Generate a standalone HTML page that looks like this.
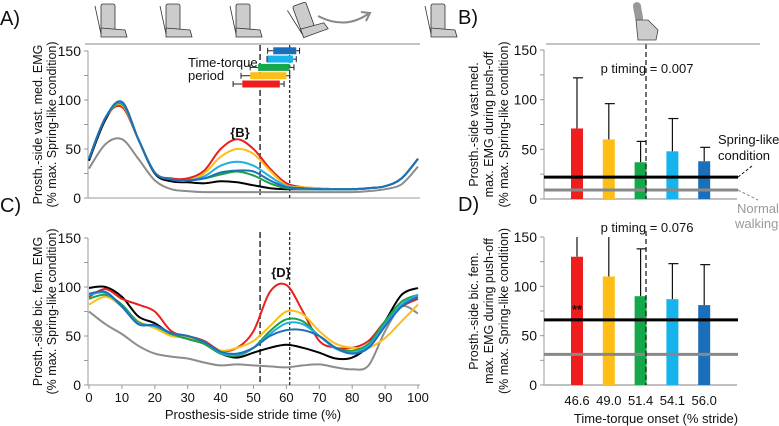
<!DOCTYPE html>
<html><head><meta charset="utf-8"><style>
body{margin:0;background:#fff}
svg{display:block;font-family:"Liberation Sans",Arial,sans-serif}
</style></head><body>
<svg id="fig" width="779" height="426" viewBox="0 0 779 426">
<g id="icons"></g>
<g id="pA"></g>
<g id="pC"></g>
<g id="pB"></g>
<g id="pD"></g>
</svg>
<script>
// ---- data ----
const pcts=[0,5,10,15,20,25,30,35,40,45,50,55,60,65,70,75,80,85,90,95,100];
const seriesNames=["gray","black","red","orange","green","lightblue","darkblue"];
const colors={gray:"#8c8c8c",black:"#000",red:"#e8201e",orange:"#fbbf16",green:"#1aa24a",lightblue:"#1eaee8",darkblue:"#1f6fb7"};
const vmGray=[30,55,60,40,18,9,7,6,6,6,6,6,6,6,6,6,6,7,9,14,32];
const vmBlack=[38,80,98,60,25,17,16,15,17,16,13,10,9,9,9,9,9,10,12,20,40];
const vmRed=[40,82,93,60,26,20,20,28,50,60,50,30,15,11,10,9,9,10,12,20,40];
const vmOrange=[40,82,95,60,26,19,18,25,42,50,45,28,13,11,10,9,9,10,12,20,40];
const vmGreen=[40,82,96,60,26,19,18,20,24,27,23,15,10,9,9,9,9,10,12,20,40];
const vmLightBlue=[40,82,97,60,26,19,18,22,33,37,33,22,12,10,9,9,9,10,12,20,40];
const vmDarkBlue=[40,82,98,60,26,19,18,20,26,28,27,18,11,10,9,9,9,10,12,20,40];
const bfGray=[75,62,52,40,32,29,27,23,20,21,20,19,18,20,21,18,16,20,55,80,73];
const bfBlack=[99,100,90,70,63,52,47,42,32,28,33,38,41,38,33,27,28,40,65,92,99];
const bfRed=[90,98,88,82,75,55,50,45,35,38,55,95,102,75,45,38,38,45,65,80,88];
const bfOrange=[82,90,80,65,58,50,48,42,35,38,45,60,75,72,55,42,38,38,48,65,82];
const bfGreen=[88,92,82,64,60,52,47,42,32,30,38,55,67,65,50,38,35,42,65,85,92];
const bfLightBlue=[92,94,80,63,60,53,50,44,33,31,38,52,63,62,50,37,33,40,62,82,92];
const bfDarkBlue=[93,95,80,62,61,53,50,44,34,32,38,50,56,56,50,38,32,38,60,80,90];
const ttOnset=[46.6,49.0,51.4,54.1,56.0];
const ttEnd=[58,60,61,62,63];
const ttErrLo=[43.8,46.2,49.0,54.1,54.3];
const ttErrHi=[59.3,61,62.3,63,64];
const barCats=["46.6","49.0","51.4","54.1","56.0"];
const barColors=["#f01d1d","#fdbf17","#14a84a","#16b4ec","#1a6fbb"];
const vmBars=[71,60,37,48,38];
const vmErr=[122,96,58,81,52];
const bfBars=[130,110,90,87,81];
const bfErr=[155,155,138,123,122];
const vmRefs=[22,9];
const bfRefs=[66,31];
const yTicks=[0,50,100,150];
const xTicks=[0,10,20,30,40,50,60,70,80,90,100];

const NS="http://www.w3.org/2000/svg";
function el(p,tag,a,txt){const e=document.createElementNS(NS,tag);for(const k in a)e.setAttribute(k,a[k]);if(txt!==undefined)e.textContent=txt;p.appendChild(e);return e;}
function smooth(pts){let d="M"+pts[0][0]+","+pts[0][1];for(let i=0;i<pts.length-1;i++){const p0=pts[i-1]||pts[i],p1=pts[i],p2=pts[i+1],p3=pts[i+2]||p2;const c1=[p1[0]+(p2[0]-p0[0])/6,p1[1]+(p2[1]-p0[1])/6],c2=[p2[0]-(p3[0]-p1[0])/6,p2[1]-(p3[1]-p1[1])/6];d+=`C${c1[0].toFixed(1)},${c1[1].toFixed(1)} ${c2[0].toFixed(1)},${c2[1].toFixed(1)} ${p2[0].toFixed(1)},${p2[1].toFixed(1)}`;}return d;}

// icons
const ic=document.getElementById('icons');
el(ic,'line',{x1:85,y1:44,x2:420,y2:44,stroke:'#888','stroke-width':1});
[[95,0],[160,0],[230,0],[293,-20],[425,0]].forEach((c,i)=>{
 const g=el(ic,'g',{transform:`translate(${c[0]},4) rotate(${c[1]},10,20)`});
 
 el(g,'rect',{x:6,y:0,width:14,height:26,fill:'#ccc',stroke:'#333','stroke-width':0.8,rx:2});
 el(g,'path',{d:'M6,24 L30,26 L32,33 L6,33 Z',fill:'#ccc',stroke:'#333','stroke-width':0.8});
 el(g,'line',{x1:0,y1:2,x2:6,y2:30,stroke:'#333','stroke-width':0.8});
});
el(ic,'path',{d:'M318,16 Q345,30 368,14',fill:'none',stroke:'#888','stroke-width':2});
el(ic,'path',{d:'M361,12 L370,13 L366,21',fill:'none',stroke:'#888','stroke-width':2});

function linePanel(id,data,y0,y150,label,ylab1,ylab2,showX){
 const g=document.getElementById(id);
 const X=v=>89+v*3.29, Y=v=>y0-(y0-y150)*v/150;
 el(g,'line',{x1:88,y1:y150,x2:88,y2:y0,stroke:'#999'});
 el(g,'line',{x1:88,y1:y0,x2:420,y2:y0,stroke:'#999'});
 yTicks.forEach(t=>{el(g,'line',{x1:84,y1:Y(t),x2:88,y2:Y(t),stroke:'#999'});el(g,'text',{x:81,y:Y(t)+5,'text-anchor':'end','font-size':14,fill:'#111'},t);});
 [25,75,125].forEach(t=>el(g,'line',{x1:84,y1:Y(t),x2:88,y2:Y(t),stroke:'#999'}));
 if(showX){xTicks.forEach(t=>{el(g,'line',{x1:X(t),y1:y0,x2:X(t),y2:y0+4,stroke:'#999'});el(g,'text',{x:X(t),y:y0+17,'text-anchor':'middle','font-size':13,fill:'#111'},t);});
  el(g,'text',{x:253,y:419,'text-anchor':'middle','font-size':13,fill:'#111'},'Prosthesis-side stride time (%)');}
 const t=el(g,'text',{transform:`translate(42,${(y0+y150)/2}) rotate(-90)`,'text-anchor':'middle','font-size':12.5,fill:'#111'});
 el(t,'tspan',{x:0,y:0},ylab1);el(t,'tspan',{x:0,y:14},ylab2);
 el(g,'text',{x:0,y:y150-26,'font-size':20,fill:'#111'},label);
 el(g,'line',{x1:X(52),y1:y150-6,x2:X(52),y2:y0,stroke:'#222','stroke-width':1.4,'stroke-dasharray':'6,3'});
 el(g,'line',{x1:X(61),y1:y150-6,x2:X(61),y2:y0,stroke:'#222','stroke-width':1.2,'stroke-dasharray':'3,2'});
 seriesNames.forEach((n,i)=>{const vals=data[i];const p=el(g,'path',{d:smooth(vals.map((v,j)=>[X(pcts[j]),Y(v)])),fill:'none',stroke:colors[n],'stroke-width':2});
  });
 return {X,Y,g};
}
const A=linePanel('pA',[vmGray,vmBlack,vmRed,vmOrange,vmGreen,vmLightBlue,vmDarkBlue],198,51,'A)','Prosth.-side vast. med. EMG','(% max. Spring-like condition)',false);
el(A.g,'text',{x:240,y:137,'text-anchor':'middle','font-size':13,'font-weight':'bold',fill:'#111'},'{B}');
el(A.g,'text',{x:188,y:67,'font-size':13,fill:'#111'},'Time-torque');
el(A.g,'text',{x:188,y:80,'font-size':13,fill:'#111'},'period');
ttOnset.forEach((o,i)=>{const y=84-i*8.3;const x1=A.X(o),x2=A.X(ttEnd[i]);
 const r=el(A.g,'rect',{x:x1,y:y-3.5,width:x2-x1,height:7,fill:barColors[i]});
 
 const e1=A.X(ttErrLo[i]),e2=A.X(ttErrHi[i]);
 el(A.g,'path',{d:`M${e1},${y-3}V${y+3}M${e1},${y}H${x1}M${x2},${y}H${e2}M${e2},${y-3}V${y+3}`,stroke:'#222','stroke-width':1,fill:'none'});});
const C=linePanel('pC',[bfGray,bfBlack,bfRed,bfOrange,bfGreen,bfLightBlue,bfDarkBlue],385,238,'C)','Prosth.-side bic. fem. EMG','(% max. Spring-like condition)',true);
el(C.g,'text',{x:281,y:277,'text-anchor':'middle','font-size':13,'font-weight':'bold',fill:'#111'},'{D}');

function barPanel(id,vals,errs,refs,y0,y150,label,ptxt,pY,l1,l2,l3,showCats,legend){
 const g=document.getElementById(id);
 const Y=v=>y0-(y0-y150)*Math.min(v,150)/150, X=i=>577+i*31.8;
 el(g,'line',{x1:544,y1:y150,x2:544,y2:y0,stroke:'#999'});
 el(g,'line',{x1:544,y1:y0,x2:737,y2:y0,stroke:'#aaa','stroke-width':1.5});
 yTicks.forEach(t=>{el(g,'line',{x1:540,y1:Y(t),x2:544,y2:Y(t),stroke:'#999'});el(g,'text',{x:537,y:Y(t)+5,'text-anchor':'end','font-size':14,fill:'#111'},t);});
 [25,75,125].forEach(t=>el(g,'line',{x1:540,y1:Y(t),x2:544,y2:Y(t),stroke:'#999'}));
 const t=el(g,'text',{transform:`translate(478,${(y0+y150)/2}) rotate(-90)`,'text-anchor':'middle','font-size':12.5,fill:'#111'});
 el(t,'tspan',{x:0,y:0},l1);el(t,'tspan',{x:0,y:15},l2);el(t,'tspan',{x:0,y:30},l3);
 el(g,'text',{x:458,y:y150-26,'font-size':20,fill:'#111'},label);
 vals.forEach((v,i)=>{const x=X(i);
  el(g,'line',{x1:x,y1:Y(errs[i]),x2:x,y2:Y(v),stroke:'#111','stroke-width':1.2});
  if(errs[i]<=150)el(g,'line',{x1:x-4,y1:Y(errs[i]),x2:x+6,y2:Y(errs[i]),stroke:'#111','stroke-width':1.2});
  const r=el(g,'rect',{x:x-6,y:Y(v),width:12,height:y0-Y(v),fill:barColors[i]});
  
  if(showCats)el(g,'text',{x:x,y:405,'text-anchor':'middle','font-size':13,fill:'#111'},barCats[i]);});
 el(g,'line',{x1:544,y1:Y(refs[0]),x2:738,y2:Y(refs[0]),stroke:'#000','stroke-width':3});
 el(g,'line',{x1:544,y1:Y(refs[1]),x2:738,y2:Y(refs[1]),stroke:'#888','stroke-width':3});
 el(g,'line',{x1:646,y1:y150-6,x2:646,y2:y0,stroke:'#111','stroke-width':1.2,'stroke-dasharray':'5,3'});
 el(g,'text',{x:647,y:pY,'text-anchor':'middle','font-size':13,fill:'#111'},ptxt);
 if(showCats)el(g,'text',{x:656,y:423,'text-anchor':'middle','font-size':13,fill:'#111'},'Time-torque onset (% stride)');
 if(legend){
  el(g,'text',{x:718,y:144,'font-size':13,fill:'#111'},'Spring-like');
  el(g,'text',{x:718,y:160,'font-size':13,fill:'#111'},'condition');
  el(g,'line',{x1:738,y1:Y(refs[0]),x2:752,y2:166,stroke:'#111','stroke-dasharray':'3,2'});
  el(g,'line',{x1:738,y1:Y(refs[1]),x2:758,y2:200,stroke:'#888','stroke-dasharray':'3,2'});
  el(g,'text',{x:737,y:213,'font-size':13,fill:'#999'},'Normal');
  el(g,'text',{x:735,y:228,'font-size':13,fill:'#999'},'walking');
 }
 return {g,Y,X};
}
const B=barPanel('pB',vmBars,vmErr,vmRefs,199,50,'B)','p timing = 0.007',73,'Prosth.-side vast.med.','max. EMG during push-off','(% max. Spring-like condition)',false,true);
el(B.g,'line',{x1:546,y1:44,x2:760,y2:44,stroke:'#888'});
const bt=el(B.g,'g',{transform:'translate(634,2)'});
el(bt,'rect',{x:0,y:0,width:8,height:20,rx:4,fill:'#999',transform:'rotate(-10,4,10)'});
el(bt,'path',{d:'M2,18 L14,18 L24,28 L22,38 L4,38 Z',fill:'#ccc',stroke:'#444','stroke-width':0.8});
const D=barPanel('pD',bfBars,bfErr,bfRefs,385,237,'D)','p timing = 0.076',232,'Prosth.-side bic. fem.','max. EMG during push-off','(% max. Spring-like condition)',true,false);
el(D.g,'text',{x:577,y:314,'text-anchor':'middle','font-size':13,'font-weight':'bold',fill:'#111'},'**');
</script>
</body></html>
